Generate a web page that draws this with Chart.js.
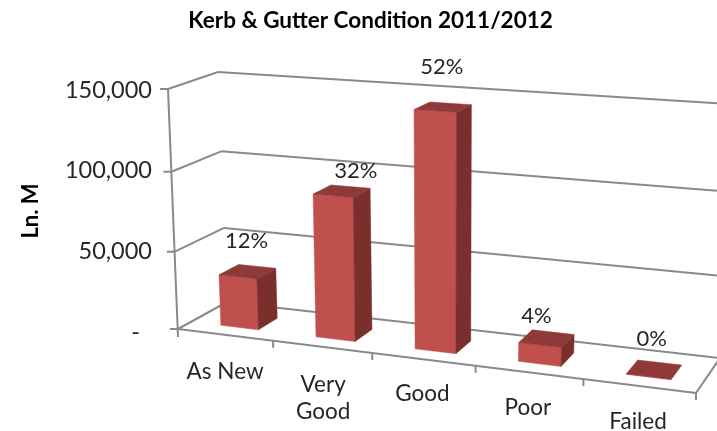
<!DOCTYPE html>
<html><head><meta charset="utf-8">
<style>html,body{margin:0;background:#fff}canvas{display:block;filter:blur(0.35px)}</style>
<script src="https://cdn.jsdelivr.net/npm/chart.js@4"></script></head>
<body><canvas id="c" width="717" height="431"></canvas>
<script>
const categories = ["As New", ["Very", "Good"], "Good", "Poor", "Failed"];
const lengths = [33000, 89500, 144000, 11500, 300];
const shares = ["12%", "32%", "52%", "4%", "0%"];
const yTicks = [0, 50000, 100000, 150000];
const chartTitle = "Kerb & Gutter Condition 2011/2012";
const yTitle = "Ln. M";

// Layout of the 3D box (style, not data)
const FONT = 'Lato, "Open Sans", sans-serif';
const box = {
  f0l:[178,329], f0r:[696,393], f1l:[168,89], f1r:[706,123],
  b0l:[227,302], b0r:[720,358], b1l:[218,72], b1r:[730,104]
};
const kU = 0.9, kV = 0.95, wFront = 0.27, wBack = 0.68, uShift = 0.004;
const labelNudge = [[1,-31],[16,-20],[1,-40],[-8,-23],[0,-30]];
const catNudge = [[0,37],[1,38],[-1,34],[-1,35],[-1,36]];
const lerp=(a,b,t)=>[a[0]+(b[0]-a[0])*t,a[1]+(b[1]-a[1])*t];
const warp=(t,k)=>k*t/(1+(k-1)*t);
function project(u,v,w){
  const U=warp(u,kU),V=warp(v,kV);
  const f=lerp(lerp(box.f0l,box.f0r,U),lerp(box.f1l,box.f1r,U),V);
  const b=lerp(lerp(box.b0l,box.b0r,U),lerp(box.b1l,box.b1r,U),V);
  return lerp(f,b,w);
}
function poly(ctx,pts,fill){
  ctx.beginPath();pts.forEach((p,i)=>i?ctx.lineTo(p[0],p[1]):ctx.moveTo(p[0],p[1]));ctx.closePath();
  ctx.fillStyle=fill;ctx.fill();ctx.strokeStyle=fill;ctx.lineWidth=0.5;ctx.stroke();
}
function line(ctx,a,b){ctx.beginPath();ctx.moveTo(a[0],a[1]);ctx.lineTo(b[0],b[1]);ctx.stroke();}

const box3d = {
  id:'box3d',
  afterLayout(chart){ chart.titleBlock.left+=12.5; chart.titleBlock.right+=12.5; },
  beforeDatasetsDraw(chart){
    const {ctx,scales:{x,y},chartArea:A}=chart;
    ctx.save();ctx.strokeStyle='#8a8a8a';ctx.lineWidth=2;
    const vOf=val=>(A.bottom-y.getPixelForValue(val))/(A.bottom-A.top);
    y.ticks.forEach(t=>{
      const v=vOf(t.value);
      const fl=project(0,v,0),bl=project(0,v,1),br=project(1.03,v,1);
      line(ctx,[fl[0]-8,fl[1]],fl);line(ctx,fl,bl);line(ctx,bl,br);
    });
    line(ctx,project(0,1,0),[project(0,0,0)[0],project(0,0,0)[1]+8]);
    const f0=project(0,0,0),f1=project(1,0,0),b1=project(1,0,1);
    line(ctx,f0,f1);line(ctx,f1,b1);
    x.ticks.forEach((t,i)=>{
      const u=(i+1)/x.ticks.length,p=project(u,0,0);
      line(ctx,p,[p[0],p[1]+7]);
    });
    ctx.restore();
  },
  beforeDatasetDraw(chart,args){
    const {ctx,chartArea:A}=chart;
    const meta=chart.getDatasetMeta(args.index);
    meta.data.forEach(el=>{
      const u0=(el.x-el.width/2-A.left)/A.width+uShift,u1=(el.x+el.width/2-A.left)/A.width+uShift;
      const v0=(A.bottom-el.base)/A.height,v1=(A.bottom-el.y)/A.height;
      const a=project(u0,v0,wFront),b=project(u1,v0,wFront),c=project(u1,v1,wFront),d=project(u0,v1,wFront);
      const e=project(u1,v0,wBack),g=project(u1,v1,wBack),h=project(u0,v1,wBack);
      poly(ctx,[a,b,c,d],'#c0504d');
      poly(ctx,[b,e,g,c],'#7b2f2d');
      poly(ctx,[d,c,g,h],'#8f3a38');
    });
    return false;
  },
  afterDatasetsDraw(chart){
    const {ctx,scales:{x},chartArea:A}=chart;
    const meta=chart.getDatasetMeta(0);
    ctx.save();ctx.fillStyle='#262626';ctx.textAlign='center';ctx.textBaseline='middle';
    ctx.font='22px '+FONT;
    meta.data.forEach((el,i)=>{
      const p=project((el.x-A.left)/A.width,(A.bottom-el.y)/A.height,(wFront+wBack)/2);
      ctx.fillText(shares[i],p[0]+labelNudge[i][0],p[1]+labelNudge[i][1]);
    });
    ctx.font='22.5px '+FONT;
    categories.forEach((c,i)=>{
      const p=project((x.getPixelForTick(i)-A.left)/A.width,0,0);
      [].concat(c).forEach((s,j)=>ctx.fillText(s,p[0]+catNudge[i][0],p[1]+catNudge[i][1]+j*27));
    });
    ctx.restore();
  }
};

new Chart(document.getElementById('c'),{
  type:'bar',
  data:{labels:categories,datasets:[{data:lengths,backgroundColor:'#c0504d',barPercentage:0.4,categoryPercentage:1}]},
  plugins:[box3d],
  options:{
    responsive:false,animation:false,
    layout:{padding:{left:20,right:21,top:0,bottom:0}},
    plugins:{
      legend:{display:false},tooltip:{enabled:false},
      title:{display:true,text:chartTitle,color:'#000',font:{family:FONT,size:22.5,weight:'bold',lineHeight:1.2},padding:{top:7,bottom:56}}
    },
    scales:{
      x:{grid:{display:false},border:{display:false},ticks:{display:false},afterFit(s){s.height=99;}},
      y:{min:0,max:150000,grid:{display:false,drawTicks:false},border:{display:false},
        afterBuildTicks(s){s.ticks=yTicks.map(value=>({value}));},
        ticks:{color:'#262626',font:{family:FONT,size:23.5},padding:26,
          callback:v=>v===0?'-\u00a0\u00a0':v.toLocaleString('en-US')},
        title:{display:true,text:yTitle,color:'#000',font:{family:FONT,size:22,weight:'bold',lineHeight:1},padding:0},
        afterFit(s){s.width=158;}
      }
    }
  }
});
</script></body></html>
